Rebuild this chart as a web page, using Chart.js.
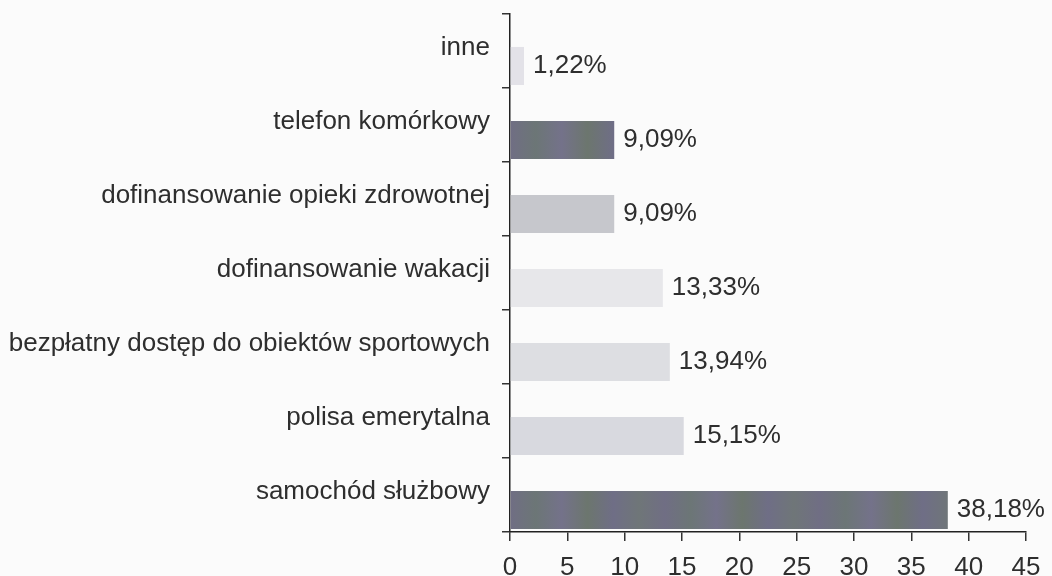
<!DOCTYPE html>
<html lang="pl">
<head>
<meta charset="utf-8">
<script src="https://cdn.jsdelivr.net/npm/chart.js@4"></script>
<style>
  body { margin: 0; background: #fbfbfb; }
  #wrap { width: 1052px; height: 576px; }
</style>
</head>
<body>
<div id="wrap"><canvas id="myChart"></canvas></div>
<script>
const categories = [
  "inne",
  "telefon komórkowy",
  "dofinansowanie opieki zdrowotnej",
  "dofinansowanie wakacji",
  "bezpłatny dostęp do obiektów sportowych",
  "polisa emerytalna",
  "samochód służbowy",
];
const values = [1.22, 9.09, 9.09, 13.33, 13.94, 15.15, 38.18];
const xTicks = [0, 5, 10, 15, 20, 25, 30, 35, 40, 45];
const barColors = ["#e3e2e8", "dark", "#c6c7cc", "#e7e7ea", "#dddee2", "#d8d9df", "dark"];

const textColor = "#2e2e2e";
const font = { family: "'Liberation Sans', Arial, sans-serif", size: 26 };

// dark bars have a mottled purple/green look
const darkFill = (chart) => {
  const area = chart.chartArea;
  if (!area) return "#6c6f7e";
  const g = chart.ctx.createLinearGradient(area.left, 0, area.right, 0);
  const tones = ["#706e84", "#6c7676", "#74728a", "#6c766e", "#6f6e86", "#6f7678"];
  for (let i = 0; i <= 20; i++) {
    g.addColorStop(i / 20, tones[i % tones.length]);
  }
  return g;
};

const valueLabels = {
  id: "valueLabels",
  afterDatasetsDraw(chart) {
    const ctx = chart.ctx;
    const meta = chart.getDatasetMeta(1);
    ctx.save();
    ctx.font = `${font.size}px ${font.family}`;
    ctx.fillStyle = textColor;
    ctx.textAlign = "left";
    ctx.textBaseline = "middle";
    meta.data.forEach((bar, i) => {
      const txt = values[i].toFixed(2).replace(".", ",") + "%";
      ctx.fillText(txt, bar.x + 9, bar.y);
    });
    ctx.restore();
  },
};

new Chart(document.getElementById("myChart"), {
  type: "bar",
  data: {
    labels: categories,
    datasets: [
      {
        // empty spacer so the real bars sit in the lower half of each row
        data: categories.map(() => null),
        backgroundColor: "rgba(0,0,0,0)",
      },
      {
        data: values,
        backgroundColor: (c) =>
          barColors[c.dataIndex] === "dark" ? darkFill(c.chart) : barColors[c.dataIndex],
        borderWidth: 0,
      },
    ],
  },
  options: {
    indexAxis: "y",
    responsive: true,
    maintainAspectRatio: false,
    animation: false,
    categoryPercentage: 0.81,
    barPercentage: 1.27,
    layout: { padding: { top: 14, right: 26, left: 0, bottom: 0 } },
    plugins: {
      legend: { display: false },
      tooltip: { enabled: false },
    },
    scales: {
      x: {
        min: 0,
        max: 45,
        afterBuildTicks: (scale) => {
          scale.ticks = xTicks.map((v) => ({ value: v }));
        },
        afterFit: (scale) => {
          scale.height = 44;
        },
        border: { color: "#222", width: 1.5 },
        grid: {
          drawOnChartArea: false,
          tickLength: 9,
          color: "#333",
          lineWidth: 1.5,
        },
        ticks: { color: textColor, font: font, padding: 11 },
      },
      y: {
        afterFit: (scale) => {
          scale.width = 510;
          scale.paddingTop = 0;
          scale.paddingBottom = 0;
        },
        border: { color: "#222", width: 1.5 },
        grid: {
          offset: true,
          drawOnChartArea: false,
          tickLength: 8,
          color: "#333",
          lineWidth: 1.5,
        },
        ticks: { color: textColor, font: font, padding: 12, labelOffset: -3 },
      },
    },
  },
  plugins: [valueLabels],
});
</script>
</body>
</html>
